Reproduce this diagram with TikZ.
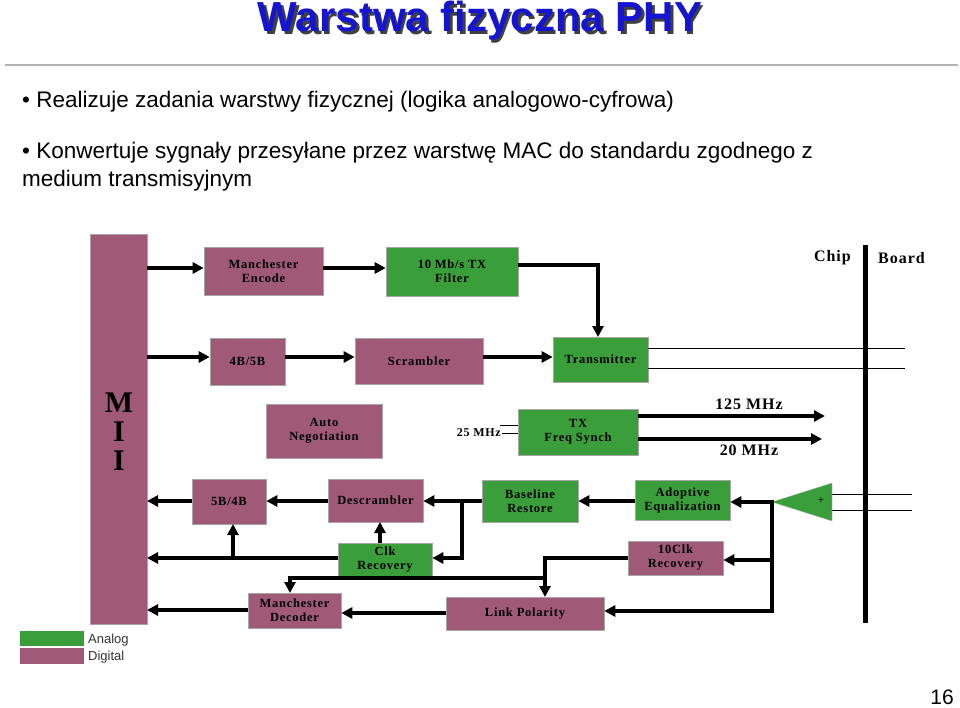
\documentclass[tikz,border=0pt]{standalone}
\usepackage{fontspec}
\setmainfont{Liberation Sans}
\newfontfamily\serifb{Liberation Serif}[LetterSpace=6]
\usetikzlibrary{arrows.meta}
\definecolor{dig}{RGB}{160,90,120}
\definecolor{ana}{RGB}{58,158,58}
\definecolor{ttl}{RGB}{20,20,210}
\tikzset{
 blk/.style={draw=gray!70,line width=0.6pt,inner sep=0pt},
 bt/.style={inner sep=0pt,font=\serifb\bfseries\fontsize{12.5}{14}\selectfont,align=center},
 dg/.style={blk,fill=dig},
 an/.style={blk,fill=ana},
 ar/.style={line width=3.5pt,-{Triangle[length=11pt,width=11pt]}},
 ln/.style={line width=3.5pt},
 thin/.style={line width=1pt},
 lbl/.style={font=\serifb\bfseries\fontsize{16}{18}\selectfont,inner sep=0pt},
 mi/.style={font=\serifb\bfseries\fontsize{30}{32}\selectfont,inner sep=0pt},
}
\newcommand{\bx}[6]{\node[#1,minimum width=#4-#2,minimum height=#5-#3] (#6) at ({(#2+#4)/2},{(#3+#5)/2}) {};}
\begin{document}
\begin{tikzpicture}[x=1pt,y=-1pt]
\useasboundingbox (0,0) rectangle (960,708);
% title
\node[font=\bfseries\fontsize{42}{44}\selectfont,text=black!75] (titles) at (482.5,23.5) {Warstwa fizyczna PHY};
\node[font=\bfseries\fontsize{42}{44}\selectfont,text=ttl] (title) at (480,21) {Warstwa fizyczna PHY};
\draw[line width=2.5pt,gray!60] (5,65) -- (958,65);
\node[anchor=west,font=\fontsize{22.5}{24}\selectfont,inner sep=0pt] (b1) at (22,102) {• Realizuje zadania warstwy fizycznej (logika analogowo-cyfrowa)};
\node[anchor=west,font=\fontsize{22.5}{24}\selectfont,inner sep=0pt] (b2) at (22,153) {• Konwertuje sygnały przesyłane przez warstwę MAC do standardu zgodnego z};
\node[anchor=west,font=\fontsize{22.5}{24}\selectfont,inner sep=0pt] (b3) at (22,181) {medium transmisyjnym};
% MII
\bx{dg}{90}{234}{147}{624}{mii}
\node[mi] (m1) at (119,403) {M};
\node[mi] (m2) at (119,432) {I};
\node[mi] (m3) at (119,461) {I};
% blocks
\bx{dg}{204}{247}{323}{295}{me}
\node[bt] at (me) {Manchester\\Encode};
\bx{an}{386}{247}{518}{296}{tf}
\node[bt] at (tf) {10 Mb/s TX\\Filter};
\bx{an}{553}{337}{648}{382}{tx}
\node[bt] at (tx) {Transmitter};
\bx{dg}{210}{338}{285}{385}{e45}
\node[bt] at (e45) {4B/5B};
\bx{dg}{355}{338}{483}{384}{scr}
\node[bt] at (scr) {Scrambler};
\bx{dg}{266}{404}{382}{458}{auto}
\node[bt] at (auto) {Auto\\Negotiation};
\bx{an}{518}{409}{638}{455}{fs}
\node[bt] at (fs) {TX\\Freq Synch};
\bx{dg}{192}{479}{266}{524}{d54}
\node[bt] at (d54) {5B/4B};
\bx{dg}{328}{479}{423}{522}{dscr}
\node[bt] at (dscr) {Descrambler};
\bx{an}{482}{480}{578}{522}{br}
\node[bt] at (br) {Baseline\\Restore};
\bx{an}{635}{480}{730}{520}{eq}
\node[bt] at (eq) {Adoptive\\Equalization};
\bx{an}{338}{543}{432}{576}{clk}
\node[bt] at (clk) {Clk\\Recovery};
\bx{dg}{628}{541}{723}{575}{clk10}
\node[bt] at (clk10) {10Clk\\Recovery};
\bx{dg}{248}{593}{341}{628}{md}
\node[bt] at (md) {Manchester\\Decoder};
\bx{dg}{446}{597}{604}{630}{lp}
\node[bt] at (lp) {Link Polarity};
% chip/board
\draw[line width=5pt] (865,245) coordinate (cbt) -- (865,623) coordinate (cbb);
\node[lbl,anchor=east] (chip) at (851,258) {Chip};
\node[lbl,anchor=west] (board) at (878,258) {Board};
% amplifier
\draw[fill=ana,draw=gray!60] (772,502) coordinate (amp) -- (832,483) -- (832,521) -- cycle;
\node[font=\fontsize{10}{10}\selectfont] (plus) at (821,501) {+};
\draw[thin] (832,494) -- (912,494);
\draw[thin] (832,510) -- (912,510);
% TX path
\draw[ar] (147,268) -- (me.west|-0,268);
\draw[ar] (me.east|-0,268) -- (tf.west|-0,268);
\draw[ln] (tf.east|-0,265) -- (598,265);
\draw[ar] (598,263.5) -- (598,337);
\draw[ar] (147,357) -- (e45.west|-0,357);
\draw[ar] (e45.east|-0,357) -- (scr.west|-0,357);
\draw[ar] (scr.east|-0,357) -- (tx.west|-0,357);
\draw[thin] (tx.east|-0,348) -- (905,348);
\draw[thin] (tx.east|-0,368) -- (905,368);
\draw[ar] (fs.east|-0,416) -- (825,416);
\draw[ar] (fs.east|-0,439) -- (822,439);
\node[lbl] (f125) at (749,404) {125 MHz};
\node[lbl] (f20) at (749,450) {20 MHz};
\draw[thin] (500,425) -- (fs.west|-0,425);
\draw[thin] (502,433) -- (fs.west|-0,433);
\node[font=\serifb\bfseries\fontsize{12}{12}\selectfont,anchor=east,inner sep=1pt] (f25) at (502,433) {25 MHz};
% RX path
\draw[ln] (amp) -- (772,611);
\draw[ar] (773.7,502) -- (eq.east|-0,502);
\draw[ar] (773.7,560) -- (clk10.east|-0,560);
\draw[ar] (773.7,611) -- (lp.east|-0,611);
\draw[ar] (eq.west|-0,501) -- (br.east|-0,501);
\draw[ar] (br.west|-0,501) -- (dscr.east|-0,501);
\draw[ln] (462,501) -- (462,558);
\draw[ar] (463.7,558) -- (clk.east|-0,558);
\draw[ar] (dscr.west|-0,501) -- (d54.east|-0,501);
\draw[ar] (d54.west|-0,501) -- (147,501);
\draw[ar] (clk.west|-0,558) -- (147,558);
\draw[ar] (233,558) -- (233,524);
\draw[ar] (380,543) -- (380,522);
\draw[ln] (clk10.west|-0,558) -- (545,558);
\draw[ar] (545,556.3) -- (545,597);
\draw[ln] (545,578) -- (290,578);
\draw[ar] (290,576.3) -- (290,593);
\draw[ar] (lp.west|-0,613) -- (md.east|-0,613);
\draw[ar] (md.west|-0,610) -- (147,610);
% legend
\node[fill=ana,minimum width=64pt,minimum height=15pt,inner sep=0pt] (la) at (52,638) {};
\node[fill=dig,minimum width=64pt,minimum height=16pt,inner sep=0pt] (ld) at (52,656) {};
\node[anchor=west,font=\fontsize{13}{13}\selectfont,inner sep=0pt,text=black!80] (lat) at (88,640) {Analog};
\node[anchor=west,font=\fontsize{13}{13}\selectfont,inner sep=0pt,text=black!80] (ldt) at (88,657) {Digital};
\node[font=\fontsize{21}{21}\selectfont] (pg) at (942,697) {16};
\end{tikzpicture}
\end{document}
